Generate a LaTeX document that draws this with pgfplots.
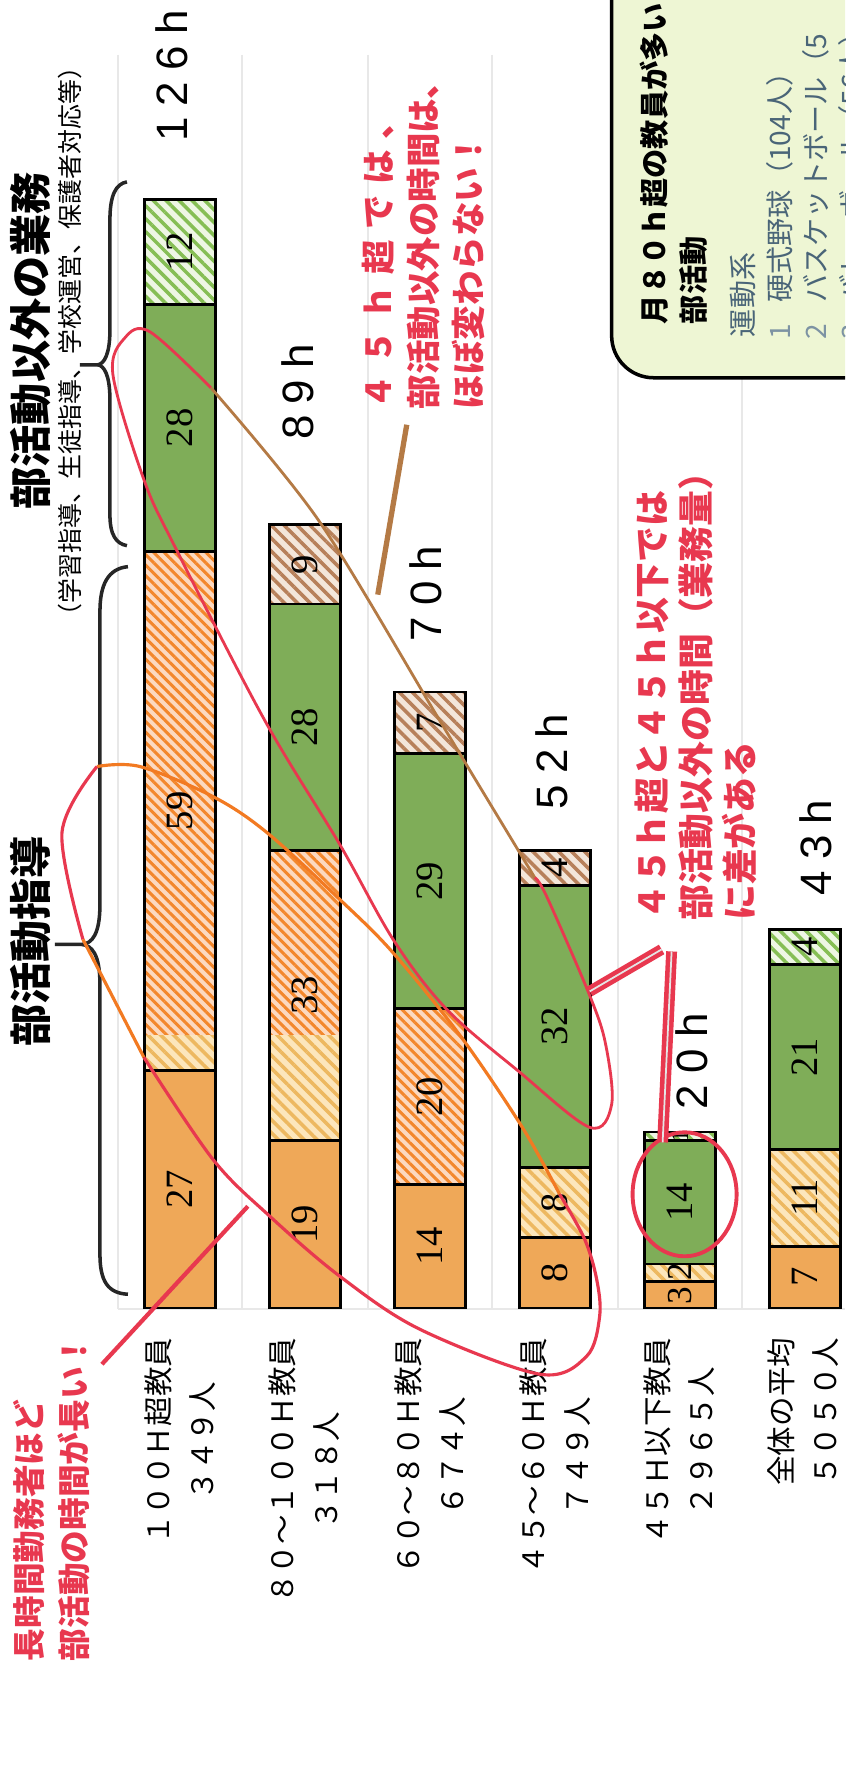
\documentclass[border=0pt]{standalone}
\usepackage{fontspec}
\setmainfont{Noto Sans CJK JP}
\newfontfamily\numfont{Liberation Serif}
\newfontfamily\latinfont{Liberation Sans}
\usepackage{pgfplots}
\usepackage{pgfplotstable}
\pgfplotsset{compat=1.18}
\usetikzlibrary{patterns.meta}
\definecolor{cA}{HTML}{EFA858}
\definecolor{cBabg}{HTML}{FCE6BC}
\definecolor{cBaln}{HTML}{EDB860}
\definecolor{cBbbg}{HTML}{FCD9C0}
\definecolor{cBbln}{HTML}{F3872C}
\definecolor{cC}{HTML}{7FAD58}
\definecolor{cDabg}{HTML}{EEF6E4}
\definecolor{cDaln}{HTML}{86BE55}
\definecolor{cDbbg}{HTML}{F3E6DA}
\definecolor{cDbln}{HTML}{B7805A}
\definecolor{redA}{HTML}{E8384F}
\definecolor{orA}{HTML}{F27A22}
\definecolor{brA}{HTML}{B47A45}
\definecolor{boxbg}{HTML}{EEF6D4}
\definecolor{slate}{HTML}{4A6578}
\definecolor{slatel}{HTML}{7D93A3}

% segments of each bar, from the base up (hours per month)
\pgfplotstableread{
x A Ba Bb C Da Db
0 27 4 55 28 12 0
1 19 12 21 28 0 9
2 14 0 20 29 0 7
3 8 8 0 32 0 4
4 3 2 0 14 1 0
5 7 11 0 21 4 0
}\segdata
% labelled values of each bar
\pgfplotstableread{
x A B C D
0 27 59 28 12
1 19 33 28 9
2 14 20 29 7
3 8 8 32 4
4 3 2 14 1
5 7 11 21 4
}\labdata

\pgfplotsset{barax/.style={at={(0,0)},anchor=south west,width=8.45cm,height=17.66cm,
  scale only axis,xmin=-1.44,xmax=5.32,ymin=-52.045,ymax=148.636,hide axis,
  ybar stacked,bar width=0.71cm,clip=false}}

\newcommand\gap{\hspace{3.2pt}}

\begin{document}
\begin{tikzpicture}
\useasboundingbox (0,0) rectangle (8.45cm,17.66cm);
\clip (0,0) rectangle (8.45cm,17.66cm);
\fill[white] (0,0) rectangle (8.45cm,17.66cm);
\begin{scope}[shift={(0,17.66cm)},x=0.01cm,y=-0.01cm]
\foreach \gx in {118,242,368,492,618,742}{\draw[black!9,line width=0.6pt] (\gx,55) -- (\gx,1310);}
\draw[black!9,line width=0.6pt] (118,1310) -- (845,1310);
% box
\draw[line width=1pt,fill=boxbg,rounded corners=0.42cm] (612,378) rectangle (950,-80);
\end{scope}

\begin{axis}[barax]
\addplot[fill=cA,draw=none] table[x=x,y=A]{\segdata};
\addplot[fill=cBabg,draw=none,postaction={pattern color=cBaln,pattern={Lines[angle=-45,distance=2.6pt,line width=1pt]}}] table[x=x,y=Ba]{\segdata};
\addplot[fill=cBbbg,draw=none,postaction={pattern color=cBbln,pattern={Lines[angle=-45,distance=2.1pt,line width=0.85pt]}}] table[x=x,y=Bb]{\segdata};
\addplot[fill=cC,draw=none] table[x=x,y=C]{\segdata};
\addplot[fill=cDabg,draw=none,postaction={pattern color=cDaln,pattern={Lines[angle=-45,distance=2.6pt,line width=1pt]}}] table[x=x,y=Da]{\segdata};
\addplot[fill=cDbbg,draw=none,postaction={pattern color=cDbln,pattern={Lines[angle=-45,distance=2.6pt,line width=1pt]}}] table[x=x,y=Db]{\segdata};
\end{axis}

\begin{axis}[barax]
\addplot[fill=none,draw=black,line width=0.8pt] table[x=x,y=A]{\labdata};
\addplot[fill=none,draw=black,line width=0.8pt] table[x=x,y=B]{\labdata};
\addplot[fill=none,draw=black,line width=0.8pt] table[x=x,y=C]{\labdata};
\addplot[fill=none,draw=black,line width=0.8pt] table[x=x,y=D]{\labdata};
\tikzset{bn/.style={rotate=90,inner sep=0pt,font=\numfont\fontsize{11pt}{12pt}\selectfont}}
\node[bn] at (axis cs:0,13.5) {27};
\node[bn] at (axis cs:0,56.5) {59};
\node[bn] at (axis cs:0,100) {28};
\node[bn] at (axis cs:0,120) {12};
\node[bn] at (axis cs:1,9.5) {19};
\node[bn] at (axis cs:1,35.5) {33};
\node[bn] at (axis cs:1,66) {28};
\node[bn] at (axis cs:1,84.5) {9};
\node[bn] at (axis cs:2,7) {14};
\node[bn] at (axis cs:2,24) {20};
\node[bn] at (axis cs:2,48.5) {29};
\node[bn] at (axis cs:2,66.5) {7};
\node[bn] at (axis cs:3,4) {8};
\node[bn] at (axis cs:3,12) {8};
\node[bn] at (axis cs:3,32) {32};
\node[bn] at (axis cs:3,50) {4};
\node[bn,font=\numfont\fontsize{10pt}{11pt}\selectfont] at (axis cs:4,1.4) {3};
\node[bn,font=\numfont\fontsize{10pt}{11pt}\selectfont] at (axis cs:4,4.1) {2};
\node[bn] at (axis cs:4,12) {14};
\node[bn,font=\numfont\fontsize{7pt}{8pt}\selectfont] at (axis cs:4,19.5) {1};
\node[bn] at (axis cs:5,3.5) {7};
\node[bn] at (axis cs:5,12.5) {11};
\node[bn] at (axis cs:5,28.5) {21};
\node[bn] at (axis cs:5,41) {4};
\end{axis}

\begin{scope}[shift={(0,17.66cm)},x=0.01cm,y=-0.01cm]
% braces
\draw[line width=1pt,black!85] (128,567) .. controls (108,569) and (100,585) .. (100,612) -- (100,905) .. controls (100,935) and (92,944) .. (82,945) -- (55,945);
\draw[line width=1pt,black!85] (82,945) .. controls (92,946) and (100,955) .. (100,985) -- (100,1255) .. controls (100,1282) and (108,1294) .. (128,1295);
\draw[line width=1pt,black!85] (127,182) .. controls (116,184) and (110,195) .. (110,220) -- (110,330) .. controls (110,355) and (104,364) .. (98,365) -- (80,365);
\draw[line width=1pt,black!85] (98,365) .. controls (104,366) and (110,375) .. (110,400) -- (110,515) .. controls (110,535) and (116,544) .. (127,546);
% headings
\node[rotate=90,inner sep=0pt,font=\bfseries\fontsize{12pt}{14pt}\selectfont] at (31,341) {部活動以外の業務};
\node[rotate=90,inner sep=0pt,font=\fontsize{7.1pt}{8pt}\selectfont] at (70,342) {（学習指導、生徒指導、学校運営、保護者対応等）};
\node[rotate=90,inner sep=0pt,font=\bfseries\fontsize{12pt}{14pt}\selectfont] at (31,942) {部活動指導};
% totals
\tikzset{tot/.style={rotate=90,inner sep=0pt,font=\latinfont\fontsize{12.5pt}{14pt}\selectfont}}
\node[tot] at (172,76) {1\gap 2\gap 6\gap h};
\node[tot] at (298,392) {8\gap 9\gap h};
\node[tot] at (426,594) {7\gap 0\gap h};
\node[tot] at (552,762) {5\gap 2\gap h};
\node[tot] at (692,1062) {2\gap 0\gap h};
\node[tot] at (816,848) {4\gap 3\gap h};
% categories
\tikzset{cat/.style={rotate=90,anchor=east,inner sep=0pt,align=center,font=\fontsize{8.4pt}{12.5pt}\selectfont}}
\node[cat] at (180,1338) {１００Ｈ超教員\\３４９人};
\node[cat] at (304,1338) {８０～１００Ｈ教員\\３１８人};
\node[cat] at (430,1338) {６０～８０Ｈ教員\\６７４人};
\node[cat] at (555,1338) {４５～６０Ｈ教員\\７４９人};
\node[cat] at (680,1338) {４５Ｈ以下教員\\２９６５人};
\node[cat] at (804,1338) {全体の平均\\５０５０人};
% box text
\node[rotate=90,anchor=west,inner sep=0pt,font=\bfseries\fontsize{8.3pt}{10pt}\selectfont] at (655,325) {月８０ｈ超の教員が多い};
\node[rotate=90,anchor=west,inner sep=0pt,font=\bfseries\fontsize{8.3pt}{10pt}\selectfont] at (694,325) {部活動};
\node[rotate=90,anchor=west,inner sep=0pt,text=slate,font=\fontsize{8pt}{10pt}\selectfont] at (743,338) {運動系};
\node[rotate=90,anchor=west,inner sep=0pt,text=slate,font=\fontsize{8pt}{10pt}\selectfont] at (780,340) {\textcolor{slatel}{1}\hspace{6pt}硬式野球（104人）};
\node[rotate=90,anchor=west,inner sep=0pt,text=slate,font=\fontsize{8pt}{10pt}\selectfont] at (816,340) {\textcolor{slatel}{2}\hspace{6pt}バスケットボール（5};
\node[rotate=90,anchor=west,inner sep=0pt,text=slate,font=\fontsize{8pt}{10pt}\selectfont] at (852,340) {\textcolor{slatel}{3}\hspace{6pt}バレーボール（56人）};
% hand-drawn loops
\draw[redA,line width=0.8pt] plot[smooth,tension=0.55] coordinates {(535,878) (547,897) (590,996) (606,1045) (612,1105) (590,1128) (519,1072) (447,1010) (394,941) (340,845) (265,721) (176,549) (144,480) (113,375) (125,338) (150,332) (211,388)};
\draw[brA,line width=0.8pt] plot[smooth,tension=0.5] coordinates {(211,388) (319,521) (440,721) (535,878)};
\draw[orA,line width=0.9pt] plot[smooth,tension=0.55] coordinates {(97,767) (140,767) (213,797) (267,833) (340,900) (393,953) (461,1037) (522,1127) (560,1195)};
\draw[redA,line width=0.9pt] plot[smooth,tension=0.55] coordinates {(97,767) (62,833) (83,940)};
\draw[orA,line width=0.9pt] plot[smooth,tension=0.55] coordinates {(83,940) (97,967) (144,1058)};
\draw[redA,line width=0.9pt] plot[smooth,tension=0.55] coordinates {(144,1058) (213,1160) (270,1217) (340,1277) (420,1330) (540,1375) (587,1357) (600,1317) (597,1280) (585,1240) (560,1195)};
\draw[redA,line width=1.1pt] (685,1195) ellipse [x radius=0.52cm,y radius=0.62cm];
% pointers
\draw[brA,line width=1.5pt] (407,425) -- (378,595);
\draw[redA,line width=1.2pt] (102,1365) -- (248,1207);
\draw[redA,line width=1.3pt,double=white!80!gray,double distance=0.5pt] (662,950) -- (590,992);
\draw[redA,line width=1.3pt,double=white!80!gray,double distance=0.5pt] (672,952) -- (663,1143);
% red comments
\node[rotate=90,anchor=west,inner sep=0pt,align=left,text=redA,font=\bfseries\fontsize{9.3pt}{12.8pt}\selectfont] at (52,1663) {長時間勤務者ほど\\部活動の時間が長い！};
\node[rotate=90,anchor=west,inner sep=0pt,align=left,text=redA,font=\bfseries\fontsize{9.8pt}{12.8pt}\selectfont] at (424,410) {４\hspace{3pt}５\hspace{3pt}ｈ\hspace{3pt}超\hspace{3pt}で\hspace{3pt}は\hspace{3pt}、\\部活動以外の時間は、\\ほぼ変わらない！};
\node[rotate=90,anchor=west,inner sep=0pt,align=left,text=redA,font=\bfseries\fontsize{10.2pt}{12.5pt}\selectfont] at (696,922) {４５ｈ超と４５ｈ以下では\\部活動以外の時間（業務量）\\に差がある};
\end{scope}
\end{tikzpicture}
\end{document}
